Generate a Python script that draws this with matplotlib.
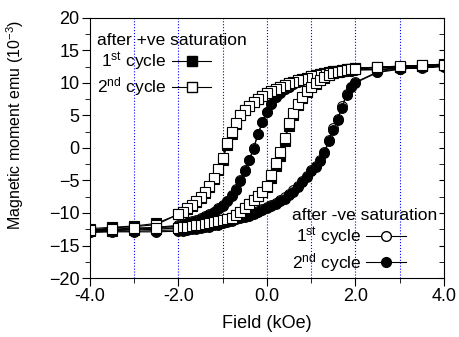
import numpy as np
import matplotlib
matplotlib.use('Agg')
import matplotlib.pyplot as plt
from matplotlib.lines import Line2D

plt.rcParams['font.family'] = ['Liberation Sans', 'DejaVu Sans']
plt.rcParams['mathtext.fontset'] = 'custom'
plt.rcParams['mathtext.rm'] = 'Liberation Sans'
plt.rcParams['mathtext.it'] = 'Liberation Sans'

# field values (kOe), descending and ascending sweeps
h_down = [4.0, 3.5, 3.0, 2.5, 2.0, 1.9, 1.8, 1.7, 1.6, 1.5, 1.4, 1.3, 1.2, 1.1, 1.0,
          0.9, 0.8, 0.7, 0.6, 0.5, 0.4, 0.3, 0.2, 0.1, 0.0, -0.1, -0.2, -0.3, -0.4,
          -0.5, -0.6, -0.7, -0.8, -0.9, -1.0, -1.1, -1.2, -1.3, -1.4, -1.5, -1.6,
          -1.7, -1.8, -1.9, -2.0, -2.5, -3.0, -3.5, -4.0]
h_up = h_down[::-1]

# after +ve saturation, 1st cycle (filled squares)
sq1_down = [12.8, 12.6, 12.5, 12.4, 12.3, 12.2, 12.1, 12.0, 11.9, 11.8, 11.7, 11.5, 11.4,
            11.2, 11.0, 10.8, 10.6, 10.4, 10.2, 10.0, 9.7, 9.4, 9.1, 8.8, 8.4, 8.0, 7.6,
            7.1, 6.5, 5.8, 5.0, 3.7, 2.2, 0.4, -1.9, -3.4, -4.8, -6.0, -6.9, -7.7, -8.3,
            -8.9, -9.4, -9.8, -10.2, -11.6, -12.0, -12.2, -12.4]
sq1_up = [-12.8, -12.7, -12.6, -12.5, -12.3, -12.2, -12.1, -12.0, -11.9, -11.8, -11.7,
          -11.6, -11.4, -11.3, -11.1, -10.9, -10.7, -10.3, -9.8, -9.2, -8.6, -8.0, -7.4,
          -6.8, -6.0, -4.6, -2.8, -1.2, 1.0, 3.4, 5.1, 6.6, 7.7, 8.6, 9.3, 9.9, 10.4,
          10.8, 11.2, 11.5, 11.7, 11.9, 12.0, 12.1, 12.2, 12.3, 12.5, 12.6, 12.7]

# after +ve saturation, 2nd cycle (open squares)
sq2_down = [12.9, 12.7, 12.5, 12.4, 12.3, 12.2, 12.1, 12.0, 11.9, 11.8, 11.7, 11.5, 11.4,
            11.2, 11.0, 10.8, 10.6, 10.4, 10.2, 10.0, 9.7, 9.4, 9.1, 8.8, 8.4, 8.0, 7.6,
            7.1, 6.5, 5.8, 5.0, 3.9, 2.5, 0.8, -1.5, -3.2, -4.6, -5.8, -6.8, -7.6, -8.2,
            -8.8, -9.3, -9.8, -10.2, -11.8, -12.1, -12.3, -12.6]
sq2_up = [-12.6, -12.5, -12.3, -12.3, -12.3, -12.2, -12.1, -12.0, -11.9, -11.8, -11.7,
          -11.6, -11.4, -11.3, -11.1, -10.9, -10.7, -10.3, -9.8, -9.2, -8.6, -8.0, -7.4,
          -6.8, -5.8, -4.2, -2.3, -0.6, 1.5, 3.8, 5.4, 6.8, 7.8, 8.7, 9.4, 10.0, 10.5,
          10.9, 11.2, 11.5, 11.7, 11.9, 12.0, 12.1, 12.2, 12.4, 12.6, 12.7, 12.8]

# after -ve saturation, 1st cycle (open circles)
ci1_up = [-12.9, -12.8, -12.8, -12.7, -12.6, -12.5, -12.4, -12.3, -12.2, -12.1, -12.0,
          -11.9, -11.7, -11.6, -11.4, -11.2, -11.0, -10.8, -10.6, -10.4, -10.2, -9.9,
          -9.7, -9.4, -9.1, -8.8, -8.4, -8.0, -7.6, -7.1, -6.5, -5.8, -5.1, -4.3, -3.4,
          -2.8, -1.8, -0.6, 1.2, 3.0, 4.5, 6.4, 8.3, 9.4, 10.1, 11.7, 12.2, 12.5, 12.7]
ci1_down = [12.6, 12.4, 12.3, 12.1, 12.0, 11.9, 11.8, 11.7, 11.6, 11.5, 11.4, 11.3, 11.2,
            11.0, 10.8, 10.6, 10.4, 10.1, 9.8, 9.4, 9.0, 8.5, 7.8, 6.8, 5.6, 4.0, 2.2,
            0.0, -1.8, -3.4, -5.0, -6.3, -7.3, -8.1, -8.8, -9.3, -9.8, -10.2, -10.5,
            -10.8, -11.1, -11.3, -11.5, -11.7, -11.9, -12.2, -12.4, -12.6, -12.7]

# after -ve saturation, 2nd cycle (filled circles)
ci2_up = [-13.0, -12.9, -12.9, -12.9, -12.8, -12.7, -12.6, -12.5, -12.4, -12.3, -12.2,
          -12.1, -11.9, -11.8, -11.6, -11.4, -11.2, -11.0, -10.8, -10.6, -10.4, -10.1,
          -9.9, -9.6, -9.3, -9.0, -8.6, -8.2, -7.8, -7.3, -6.7, -6.0, -5.3, -4.5, -3.6,
          -3.0, -2.0, -0.8, 1.0, 2.8, 4.3, 6.2, 8.2, 9.3, 10.0, 11.6, 12.1, 12.4, 12.6]
ci2_down = [12.5, 12.3, 12.2, 12.0, 12.0, 11.9, 11.8, 11.7, 11.6, 11.5, 11.4, 11.3, 11.2,
            11.0, 10.8, 10.6, 10.4, 10.1, 9.8, 9.4, 9.0, 8.5, 7.8, 6.8, 5.6, 4.0, 2.2,
            -0.1, -1.9, -3.5, -5.1, -6.4, -7.4, -8.2, -8.9, -9.4, -9.9, -10.3, -10.6,
            -10.9, -11.2, -11.4, -11.6, -11.8, -12.0, -12.3, -12.5, -12.7, -12.8]

fig = plt.figure(figsize=(4.59, 3.37), dpi=100)
ax = fig.add_axes([0.196, 0.175, 0.771, 0.772])

for xv in [-3, -2, -1, 0, 1, 2, 3]:
    ax.axvline(xv, color='blue', ls=':', lw=0.8, zorder=0)

kw = dict(color='black', lw=0.8, ms=7, mew=0.8, mec='black')
ax.plot(h_up + h_down, ci1_up + ci1_down, marker='o', mfc='white', **kw)
ax.plot(h_up + h_down, ci2_up + ci2_down, marker='o', mfc='black', **kw)
ax.plot(h_down + h_up, sq1_down + sq1_up, marker='s', mfc='black', ms=6.5, color='black', lw=0.8, mew=0.8, mec='black')
ax.plot(h_down + h_up, sq2_down + sq2_up, marker='s', mfc='white', ms=6.5, color='black', lw=0.8, mew=0.8, mec='black')

ax.set_xlim(-4, 4)
ax.set_ylim(-20, 20)
ax.set_xticks([-4, -2, 0, 2, 4])
ax.set_xticklabels(['-4.0', '-2.0', '0.0', '2.0', '4.0'])
ax.set_xticks([-3, -1, 1, 3], minor=True)
ax.set_yticks([20, 15, 10, 5, 0, -5, -10, -15, -20])
ax.set_yticks([17.5, 12.5, 7.5, 2.5, -2.5, -7.5, -12.5, -17.5], minor=True)
ax.tick_params(which='both', direction='out', labelsize=13, top=False, right=True, pad=2)
ax.tick_params(which='major', length=5.5)
ax.tick_params(which='minor', length=3.5)
for line in ax.yaxis.get_majorticklines()[1::2] + ax.yaxis.get_minorticklines()[1::2]:
    line.set_marker(0)  # right side ticks point inward
    line.set_markersize(3.5)

ax.set_xlabel('Field (kOe)', fontsize=13, labelpad=7)
ax.set_ylabel('Magnetic moment emu (10$^{-3}$)', fontsize=11.5)
ax.yaxis.set_label_coords(-0.18, 0.59)

h1 = Line2D([], [], color='black', lw=0.8, marker='s', mfc='black', mec='black', ms=6.5)
h2 = Line2D([], [], color='black', lw=0.8, marker='s', mfc='white', mec='black', ms=6.5)
leg1 = ax.legend([h1, h2], ['1$^{st}$ cycle', '2$^{nd}$ cycle'], title='after +ve saturation',
                 loc='upper left', bbox_to_anchor=(0.0, 0.97), frameon=False,
                 markerfirst=False, fontsize=12.5, title_fontsize=12.5, alignment='left',
                 handlelength=2.3, handletextpad=0.3, labelspacing=0.15,
                 borderaxespad=0.2, borderpad=0.2)
ax.add_artist(leg1)

h3 = Line2D([], [], color='black', lw=0.8, marker='o', mfc='white', mec='black', ms=7)
h4 = Line2D([], [], color='black', lw=0.8, marker='o', mfc='black', mec='black', ms=7)
ax.legend([h3, h4], ['1$^{st}$ cycle', '2$^{nd}$ cycle'], title='after -ve saturation',
          loc='lower right', bbox_to_anchor=(1.0, -0.01), frameon=False, markerfirst=False,
          fontsize=12.5, title_fontsize=12.5, alignment='left', handlelength=2.3,
          handletextpad=0.3, labelspacing=0.15, borderaxespad=0.2, borderpad=0.2)

plt.savefig('out.png', dpi=100)
